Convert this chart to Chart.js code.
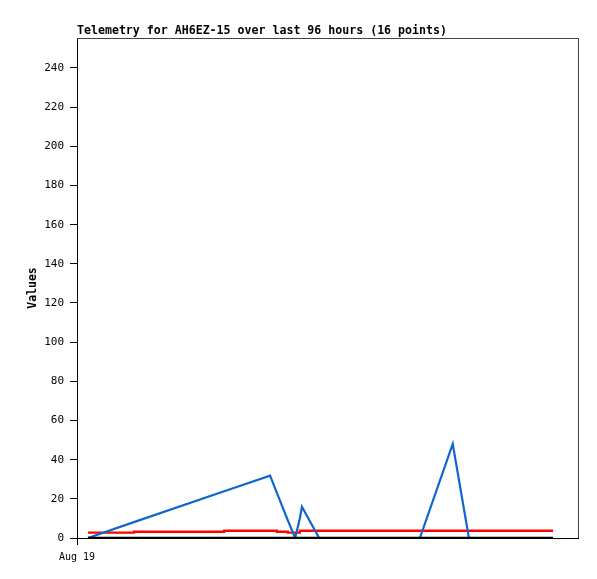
<!DOCTYPE html>
<html>
<head>
<meta charset="utf-8">
<script src="https://cdn.jsdelivr.net/npm/chart.js@4"></script>
<style>
  html, body { margin: 0; padding: 0; background: #fff; }
  #wrap { width: 597px; height: 579px; }
</style>
</head>
<body>
<div id="wrap"><canvas id="telemetry" width="597" height="579"></canvas></div>
<script>
// ===== DATA =====
const chartTitle = 'Telemetry for AH6EZ-15 over last 96 hours (16 points)';

// hours since start of window (Aug 19 00:00)
const hours = [2.1, 10.9, 28.2, 37.0, 38.3, 40.4, 41.8, 42.7, 43.1, 46.4, 65.7, 72.0, 75.1, 81.0, 86.8, 91.2];

const blueValues  = [0, 8.1, 23.9, 31.8, 23.0, 9.0, 0, 10.0, 16.0, 0, 0, 48.0, 0, 0, 0, 0];
const redValues   = [2.7, 3.2, 3.7, 3.7, 3.2, 2.7, 2.7, 3.7, 3.7, 3.7, 3.7, 3.7, 3.7, 3.7, 3.7, 3.7];
const blackValues = [0, 0, 0, 0, 0, 0, 0, 0, 0, 0, 0, 0, 0, 0, 0, 0];

const yTicks = [0, 20, 40, 60, 80, 100, 120, 140, 160, 180, 200, 220, 240];
const yMax = 255.3;
const xTickValues = [0];
const xTickLabels = ['Aug 19'];
const xMax = 96;

function toPoints(values) {
    return values.map((v, i) => ({ x: hours[i], y: v }));
}

// ===== PLUGINS =====
const frameAndTitle = {
    id: 'frameAndTitle',
    afterDraw(chart) {
        const ctx = chart.ctx;
        const a = chart.chartArea;
        ctx.save();
        ctx.strokeStyle = '#444';
        ctx.lineWidth = 1;
        ctx.beginPath();
        ctx.moveTo(a.left, a.top + 0.5);
        ctx.lineTo(a.right + 0.5, a.top + 0.5);
        ctx.lineTo(a.right + 0.5, a.bottom);
        ctx.stroke();
        ctx.fillStyle = '#000';
        ctx.font = 'bold 11.6px "DejaVu Sans Mono"';
        ctx.textAlign = 'left';
        ctx.textBaseline = 'alphabetic';
        ctx.fillText(chartTitle, a.left, a.top - 4);
        ctx.restore();
    }
};

// ===== CHART =====
const ctx = document.getElementById('telemetry').getContext('2d');
new Chart(ctx, {
    type: 'line',
    data: {
        datasets: [
            { data: toPoints(blackValues), borderColor: '#000000', borderWidth: 2.6, pointRadius: 0, tension: 0 },
            { data: toPoints(blueValues), borderColor: '#1166cc', borderWidth: 2.2, pointRadius: 0, tension: 0 },
            { data: toPoints(redValues), borderColor: '#ff0000', borderWidth: 2.3, pointRadius: 0, stepped: true }
        ]
    },
    options: {
        responsive: false,
        animation: false,
        layout: { padding: { left: 26, right: 19, top: 38, bottom: 0 } },
        plugins: {
            legend: { display: false },
            title: { display: false },
            tooltip: { enabled: false }
        },
        scales: {
            x: {
                type: 'linear',
                min: 0,
                max: xMax,
                afterBuildTicks: s => { s.ticks = xTickValues.map(v => ({ value: v })); },
                afterFit: s => { s.height = 41; },
                ticks: {
                    color: '#000',
                    font: { family: 'DejaVu Sans Mono', size: 10 },
                    padding: 6,
                    maxRotation: 0,
                    callback: v => xTickLabels[xTickValues.indexOf(v)] || ''
                },
                grid: { drawOnChartArea: false, color: '#000', tickLength: 7 },
                border: { color: '#000', width: 1 }
            },
            y: {
                min: 0,
                max: yMax,
                afterBuildTicks: s => { s.ticks = yTicks.map(v => ({ value: v })); },
                afterFit: s => { s.width = 51; },
                title: {
                    display: true,
                    text: 'Values',
                    color: '#000',
                    font: { family: 'DejaVu Sans Mono', size: 11.5, weight: 'bold' },
                    padding: { top: 0, bottom: 4 }
                },
                ticks: {
                    color: '#000',
                    font: { family: 'DejaVu Sans Mono', size: 11 },
                    padding: 6
                },
                grid: { drawOnChartArea: false, color: '#000', tickLength: 7 },
                border: { color: '#000', width: 1 }
            }
        }
    },
    plugins: [frameAndTitle]
});
</script>
</body>
</html>
